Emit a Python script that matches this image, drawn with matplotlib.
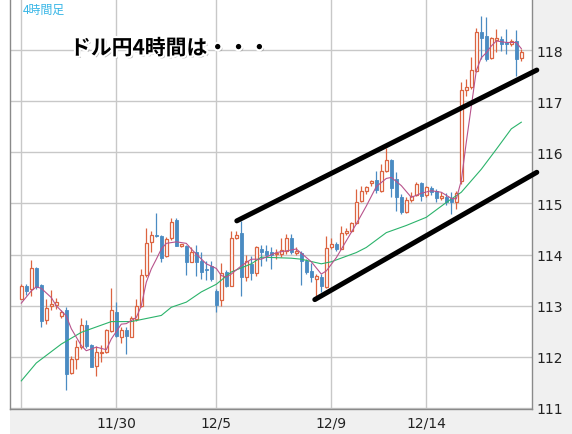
import numpy as np
import matplotlib
matplotlib.use("Agg")
import matplotlib.pyplot as plt
import matplotlib.patheffects as pe
from matplotlib.patches import Rectangle

# ドル円 4時間足 (101本)
opens = [113.14, 113.38, 113.33, 113.74, 113.40, 112.73, 112.99, 113.02, 112.79, 112.92,
         111.68, 111.96, 112.19, 112.62, 112.23, 111.83, 112.07, 112.09, 112.51, 112.88,
         112.38, 112.53, 112.39, 112.75, 113.00, 113.60, 114.24, 114.39, 114.37, 113.98,
         114.32, 114.68, 114.17, 114.17, 113.86, 114.05, 113.87, 113.72, 113.78, 113.29,
         113.12, 113.66, 113.39, 114.32, 114.42, 113.56, 113.82, 113.65, 114.11, 114.07,
         114.06, 114.01, 114.01, 114.08, 114.32, 114.03, 114.04, 113.87, 113.67, 113.52,
         113.56, 113.36, 114.14, 114.21, 114.11, 114.42, 114.47, 114.62, 115.05, 115.25,
         115.41, 115.46, 115.25, 115.63, 115.86, 115.48, 115.12, 114.84, 115.07, 115.16,
         115.41, 115.16, 115.30, 115.25, 115.10, 115.13, 115.10, 115.03, 115.44, 117.22,
         117.27, 117.59, 118.35, 118.27, 117.84, 118.20, 118.22, 118.16, 118.12, 118.18,
         117.84]
highs = [113.42, 113.42, 113.89, 113.76, 113.42, 113.14, 113.31, 113.16, 112.92, 112.97,
         112.01, 112.32, 112.76, 112.72, 112.25, 112.22, 112.23, 112.54, 113.35, 113.07,
         112.58, 112.58, 112.80, 113.14, 113.72, 114.52, 114.47, 114.81, 114.38, 114.34,
         114.71, 114.71, 114.21, 114.19, 114.15, 114.19, 114.05, 113.87, 113.87, 113.32,
         113.83, 113.70, 114.47, 114.46, 114.66, 113.99, 113.98, 114.17, 114.18, 114.19,
         114.14, 114.11, 114.32, 114.40, 114.40, 114.14, 114.08, 113.91, 113.83, 113.62,
         113.62, 114.36, 114.32, 114.24, 114.55, 114.52, 114.64, 115.28, 115.35, 115.35,
         115.46, 115.63, 115.77, 116.08, 115.87, 115.62, 115.18, 115.13, 115.22, 115.43,
         115.43, 115.35, 115.35, 115.28, 115.22, 115.20, 115.22, 115.24, 117.37, 117.43,
         117.86, 118.43, 118.67, 118.64, 118.25, 118.41, 118.27, 118.41, 118.22, 118.39,
         118.03]
lows = [113.13, 113.21, 113.20, 113.33, 112.58, 112.64, 112.92, 112.94, 112.76, 111.36,
        111.66, 111.76, 112.15, 112.17, 111.80, 111.62, 111.89, 112.07, 112.48, 112.38,
        112.28, 112.06, 112.38, 112.71, 112.98, 113.56, 114.06, 114.34, 113.85, 113.96,
        114.29, 114.16, 114.15, 113.60, 113.85, 113.58, 113.52, 113.50, 113.49, 112.88,
        113.00, 113.37, 113.38, 114.30, 113.20, 113.48, 113.50, 113.59, 113.78, 113.87,
        113.72, 113.91, 113.95, 114.02, 114.01, 113.99, 113.41, 113.62, 113.47, 113.20,
        113.26, 113.34, 114.11, 114.07, 114.10, 114.38, 114.44, 114.60, 115.02, 115.18,
        115.35, 115.20, 115.22, 115.61, 115.12, 114.86, 114.79, 114.81, 115.03, 115.14,
        115.05, 115.12, 115.16, 115.02, 115.07, 114.97, 114.79, 114.90, 115.38, 117.11,
        117.24, 117.57, 117.82, 117.78, 117.82, 117.97, 117.99, 117.92, 118.08, 117.50,
        117.79]
closes = [113.38, 113.29, 113.74, 113.36, 112.71, 112.95, 113.03, 113.07, 112.87, 111.66,
          111.96, 112.19, 112.62, 112.22, 111.81, 112.09, 112.10, 112.52, 112.92, 112.40,
          112.52, 112.40, 112.76, 113.00, 113.60, 114.22, 114.38, 114.36, 113.93, 114.30,
          114.63, 114.17, 114.19, 113.86, 114.05, 113.86, 113.66, 113.69, 113.52, 113.01,
          113.64, 113.39, 114.32, 114.38, 113.56, 113.87, 113.65, 114.14, 114.06, 113.99,
          114.00, 114.04, 114.09, 114.32, 114.06, 114.07, 113.88, 113.66, 113.56, 113.59,
          113.39, 114.12, 114.21, 114.11, 114.42, 114.46, 114.62, 115.03, 115.25, 115.33,
          115.44, 115.27, 115.64, 115.85, 115.30, 115.12, 114.83, 115.07, 115.15, 115.39,
          115.14, 115.32, 115.22, 115.10, 115.15, 115.02, 115.03, 115.20, 117.22, 117.28,
          117.61, 118.35, 118.23, 117.82, 118.23, 118.23, 118.12, 118.12, 118.18, 117.82,
          117.97]

# 短期移動平均 (ピンク)
ma_short_idx = [0, 2, 3, 4, 6, 7, 9, 10, 12, 13, 15, 17, 18, 20, 21, 23, 24, 25, 26, 27,
                28, 29, 31, 33, 34, 35, 37, 39, 40, 41, 42, 44, 46, 48, 51, 54, 55, 58, 60,
                61, 63, 65, 67, 69, 71, 73, 74, 76, 78, 80, 82, 84, 86, 87, 88, 89, 90, 91,
                92, 93, 94, 95, 97, 99, 100]
ma_short_val = [113.05, 113.29, 113.37, 113.34, 113.16, 113.00, 112.80, 112.55, 112.22,
                112.12, 112.19, 112.14, 112.35, 112.64, 112.65, 112.77, 113.00, 113.46,
                113.72, 113.91, 114.11, 114.22, 114.25, 114.22, 114.11, 114.01, 113.82,
                113.73, 113.59, 113.56, 113.62, 113.78, 113.91, 113.91, 114.04, 114.09,
                114.11, 113.86, 113.62, 113.68, 113.94, 114.27, 114.60, 114.95, 115.33,
                115.49, 115.51, 115.35, 115.12, 115.20, 115.25, 115.22, 115.10, 115.09,
                115.45, 116.20, 116.90, 117.60, 117.85, 117.95, 118.08, 118.18, 118.15,
                118.15, 118.03]

# 長期移動平均 (緑)
ma_long_idx = [0, 3, 8, 12, 18, 22, 25, 28, 30, 33, 36, 39, 42, 46, 48, 54, 56, 60, 62,
               67, 69, 73, 77, 81, 85, 88, 92, 95, 98, 100]
ma_long_val = [111.53, 111.88, 112.25, 112.48, 112.69, 112.69, 112.75, 112.81, 112.97,
               113.07, 113.27, 113.42, 113.66, 113.82, 113.95, 113.93, 113.91, 113.82,
               113.86, 114.04, 114.14, 114.43, 114.57, 114.73, 115.02, 115.22, 115.67,
               116.06, 116.46, 116.59]

# 日付の区切り
date_idx = [0, 19, 39, 62, 81]
date_labels = ["", "11/30", "12/5", "12/9", "12/14"]
price_ticks = [111, 112, 113, 114, 115, 116, 117, 118]

# トレンドライン (手書き)
upper_x = [43.1, 103.1]
upper_y = [114.66, 117.61]
lower_x = [58.7, 103.1]
lower_y = [113.12, 115.61]

RED = "#dc6440"
BLUE = "#4a8bc2"
PANEL = "#f0f0f0"

W, H = 572, 435
fig = plt.figure(figsize=(W / 100, H / 100), dpi=100, facecolor="white")

# 右と下のグレー帯
fig.add_artist(Rectangle((532 / W, 0), 40 / W, 1, transform=fig.transFigure,
                         facecolor=PANEL, edgecolor="none", zorder=0))
fig.add_artist(Rectangle((10 / W, 0), 562 / W, 25 / H, transform=fig.transFigure,
                         facecolor=PANEL, edgecolor="none", zorder=0))

ax = fig.add_axes([10 / W, 25 / H, 522 / W, 410 / H])
ax.set_facecolor("white")

o = np.array(opens)
hi = np.array(highs)
lo = np.array(lows)
c = np.array(closes)
x = np.arange(len(o))
up = c >= o

# ローソク足
ax.vlines(x[up], lo[up], hi[up], color=RED, linewidth=0.9, zorder=3)
ax.vlines(x[~up], lo[~up], hi[~up], color=BLUE, linewidth=0.9, zorder=3)
body_bot = np.minimum(o, c)
body_h = np.maximum(np.abs(c - o), 0.03)
ax.bar(x[up], body_h[up], bottom=body_bot[up], width=0.66, facecolor="white",
       edgecolor=RED, linewidth=0.9, zorder=4)
ax.bar(x[~up], body_h[~up], bottom=body_bot[~up], width=0.66, facecolor=BLUE,
       edgecolor=BLUE, linewidth=0.6, zorder=4)

# 移動平均
ax.plot(ma_long_idx, ma_long_val, color="#2bb36b", linewidth=0.8, zorder=5)
ax.plot(ma_short_idx, ma_short_val, color="#b8538c", linewidth=0.8, zorder=5)

# トレンドライン
for lx, ly in [(upper_x, upper_y), (lower_x, lower_y)]:
    ax.plot(lx, ly, color="black", linewidth=3.6, solid_capstyle="round",
            zorder=6, clip_on=False)

ax.set_xlim(-2.26, 102.14)
ax.set_ylim(110.98, 119.0)

ax.set_xticks(date_idx)
ax.set_xticklabels(date_labels, fontsize=10, color="#222222")
ax.set_yticks(price_ticks)
ax.set_yticklabels([str(t) for t in price_ticks], fontsize=10, color="#222222")
ax.yaxis.tick_right()
ax.tick_params(axis="both", length=0)
ax.tick_params(axis="x", pad=5)
ax.tick_params(axis="y", pad=3)
ax.grid(True, color="#c8c8c8", linewidth=1)
ax.set_axisbelow(True)

ax.spines["top"].set_visible(False)
for side in ["left", "right", "bottom"]:
    ax.spines[side].set_color("#8a8a8a")
    ax.spines[side].set_linewidth(1)

# 文字
fig.text(23 / W, 1 - 10 / H, "4時間足", fontsize=8.6, color="#35b5e6",
         family=["Noto Sans CJK JP", "DejaVu Sans"], va="center", ha="left")
fig.text(70 / W, 1 - 49 / H, "ドル円4時間は・・・", fontsize=15, color="black",
         fontweight="bold", family=["Noto Sans CJK JP", "DejaVu Sans"],
         va="center", ha="left", zorder=10,
         path_effects=[pe.SimplePatchShadow(offset=(1.5, -1.5), shadow_rgbFace="#777777", alpha=0.5),
                       pe.Stroke(linewidth=3, foreground="white"), pe.Normal()])

fig.savefig("out.png", dpi=100, facecolor=fig.get_facecolor())
